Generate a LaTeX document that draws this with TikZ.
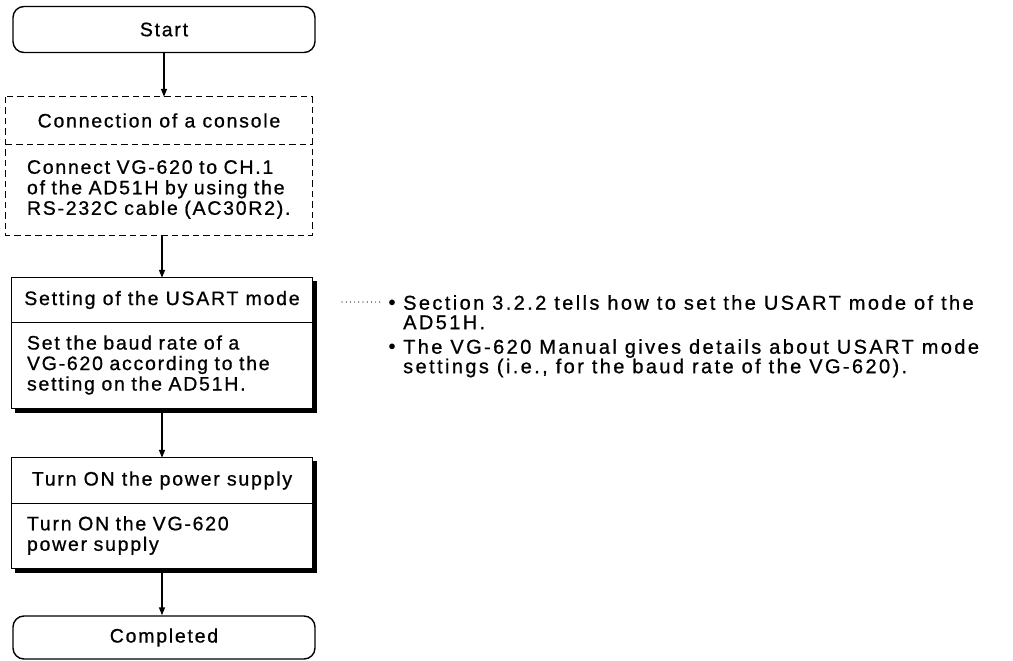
\documentclass[tikz,border=0pt]{standalone}
\usepackage{fontspec}
\setmainfont{Liberation Sans}[LetterSpace=9, FakeBold=0.8]
\newfontfamily\notefont{Liberation Sans}[LetterSpace=12, FakeBold=0.8]
\usetikzlibrary{calc,arrows.meta}
\begin{document}
\begin{tikzpicture}[x=1pt,y=1pt,
  every node/.style={font=\fontsize{19.5}{20.5}\selectfont, inner sep=0pt},
  term/.style={draw, line width=1.4pt, rounded corners=11pt, minimum width=302, minimum height=#1, align=center},
  head/.style={minimum width=300, minimum height=#1, align=center},
  body/.style={minimum width=300, minimum height=#1, text width=270, align=left},
  flow/.style={line width=1.4pt, -{Triangle[length=8pt,width=6pt]}},
  boxline/.style={line width=1.3pt},
  dbox/.style={line width=1.3pt, dash pattern=on 6.5pt off 4pt},
  shade/.style={line width=4pt},
  note/.style={anchor=north west, align=left, font=\notefont\fontsize{20}{19.5}\selectfont},
  bullet/.style={anchor=base, font=\notefont\fontsize{20}{19.5}\selectfont},
  leader/.style={line width=1.2pt, line cap=round, dash pattern=on 0pt off 4.2pt},
]
\useasboundingbox (0,0) rectangle (1013,-661);

% Start
\node[term=46] (start) at (164,-29.5) {Start};

% Connection of a console (dashed)
\node[head=47, minimum width=306] (ch) at (159,-120.5) {Connection of a console};
\node[body=91, minimum width=306, text width=264] (cb) at (159,-189.5)
  {Connect VG-620 to CH.1\\of the AD51H by using the\\RS-232C cable (AC30R2).};
\draw[dbox] (ch.north west) rectangle (cb.south east);
\draw[dbox] (ch.south west) -- (ch.south east);

% Setting of the USART mode
\node[head=44] (uh) at (162,-300) {Setting of the USART mode};
\node[body=86] (ub) at (162,-365)
  {Set the baud rate of a\\VG-620 according to the\\setting on the AD51H.};
\draw[boxline] (uh.north west) rectangle (ub.south east);
\draw[boxline] (uh.south west) -- (uh.south east);
\draw[shade] ($(uh.north east)+(2.6,-3)$) -- ($(ub.south east)+(2.6,-2.6)$) -- ($(ub.south west)+(3,-2.6)$);

% Turn ON the power supply
\node[head=45] (th) at (162,-480.5) {Turn ON the power supply};
\node[body=65] (tb) at (162,-535.5)
  {Turn ON the VG-620\\power supply};
\draw[boxline] (th.north west) rectangle (tb.south east);
\draw[boxline] (th.south west) -- (th.south east);
\draw[shade] ($(th.north east)+(2.6,-3)$) -- ($(tb.south east)+(2.6,-2.6)$) -- ($(tb.south west)+(3,-2.6)$);

% Completed
\node[term=43] (comp) at (164,-637.5) {Completed};

% flow arrows
\draw[flow] (start.south) -- (start.south |- ch.north);
\draw[flow] (uh.north |- cb.south) -- (uh.north);
\draw[flow] (ub.south) -- (th.north);
\draw[flow] (tb.south) -- (tb.south |- comp.north);

% notes
\coordinate (d1) at (342,-302);
\coordinate (d2) at (381,-302);
\draw[leader] (d1) -- (d2);
\node[bullet] (b1) at (392,-309) {•};
\node[note] (n1) at (403,-295)
  {Section 3.2.2 tells how to set the USART mode of the\\AD51H.};
\node[bullet] (b2) at (392,-353) {•};
\node[note] (n2) at (403,-339)
  {The VG-620 Manual gives details about USART mode\\settings (i.e., for the baud rate of the VG-620).};
\end{tikzpicture}
\end{document}
